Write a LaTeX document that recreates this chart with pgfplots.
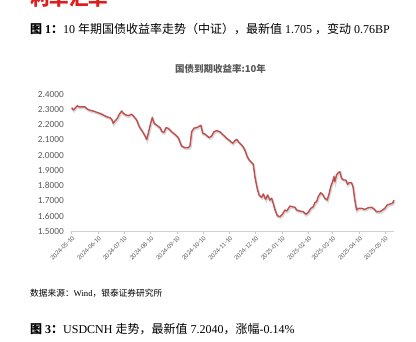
\documentclass[border=0pt]{standalone}
\usepackage{pgfplots}
\pgfplotsset{compat=1.18}
\usepackage{pgfplotstable}
\usepackage{fontspec}
\setmainfont{Liberation Serif}
\newfontfamily\cjk{Noto Sans CJK SC}
\newfontfamily\calibri{Carlito}
\definecolor{lred}{RGB}{192,80,77}
\definecolor{tgray}{RGB}{89,89,89}
\definecolor{hred}{RGB}{220,30,30}

\pgfplotstableread{
d v
0 2.312
1.9 2.297
3.8 2.308
6.5 2.325
8.8 2.317
12 2.317
15.5 2.317
18.2 2.303
21.3 2.295
25.1 2.29
29.1 2.282
32.9 2.275
36.8 2.264
40.7 2.253
44.6 2.246
46.6 2.236
48.4 2.209
50.4 2.225
53.1 2.242
55.4 2.269
58.2 2.29
60.1 2.275
63.2 2.264
65.9 2.26
69.8 2.269
72.5 2.253
75.7 2.231
78.7 2.187
82.6 2.154
85.3 2.128
87.3 2.103
89.6 2.154
91.9 2.209
93.8 2.247
96.1 2.209
99.6 2.194
102.8 2.181
105.1 2.154
107.4 2.15
109.8 2.181
112.4 2.177
116.4 2.154
120.2 2.137
124.1 2.115
128 2.06
131.9 2.049
135.7 2.049
137.7 2.06
139.7 2.154
142.3 2.177
146.2 2.183
150.5 2.196
152.5 2.144
155.1 2.139
157.8 2.126
160.1 2.115
162.9 2.126
165.6 2.154
168.8 2.161
172.6 2.154
176.4 2.133
180.4 2.111
184.2 2.095
187.4 2.078
190.1 2.095
192 2.104
195.1 2.082
199 2.06
201.7 2.034
204.4 1.99
206.7 1.968
209.5 1.951
211.4 1.942
213.3 1.859
216 1.782
218.3 1.738
221.1 1.723
223 1.745
225.8 1.71
228.1 1.738
230.8 1.705
232.8 1.717
234.6 1.684
236.6 1.645
239.3 1.603
242.4 1.596
245.1 1.61
248.3 1.64
250.3 1.633
252.1 1.648
254.1 1.666
257.2 1.661
259.9 1.658
261.9 1.64
265.7 1.633
269.6 1.629
272.7 1.612
275.4 1.625
278.5 1.651
281.2 1.661
283.2 1.688
285.1 1.694
287 1.727
289.8 1.753
292.1 1.743
294.8 1.717
297.5 1.705
299.8 1.749
301.8 1.797
303.8 1.826
305.3 1.859
306.4 1.826
308.4 1.87
310.3 1.885
312.3 1.891
314.2 1.848
316.9 1.837
319.2 1.837
321.2 1.809
323.1 1.819
325.9 1.819
327.7 1.789
329.7 1.705
331.7 1.64
333.6 1.651
337.5 1.651
341.4 1.644
345.2 1.655
349.2 1.658
352.2 1.646
355 1.629
358.8 1.629
362 1.64
364.6 1.651
367.3 1.673
370.5 1.679
373.6 1.684
375.3 1.705
}\yld

\begin{document}
\begin{tikzpicture}[x=1pt,y=1pt]
\path[use as bounding box] (0,0) rectangle (416,341);
\begin{scope}
\clip (0,0) rectangle (416,341);
\node[anchor=base west, inner sep=0, text=hred, font=\cjk\bfseries\fontsize{19.5}{20}\selectfont] at (30,335.6) {利率汇率};
\end{scope}
\node[anchor=base west, inner sep=0, font=\fontsize{12}{14}\selectfont] at (30,307.8)
  {{\bfseries\cjk 图} \textbf{1}{\bfseries\cjk ：}10 {\cjk 年期国债收益率走势（中证），最新值} 1.705 {\cjk ，变动} 0.76BP};
\node[anchor=base, inner sep=0, text=tgray, font=\cjk\bfseries\fontsize{9.5}{11}\selectfont] at (220.5,268.8) {国债到期收益率:10年};
\node[anchor=base west, inner sep=0, font=\fontsize{8.7}{10}\selectfont] at (30,44.2)
  {{\cjk 数据来源：}Wind{\cjk ，银泰证券研究所}};
\node[anchor=base west, inner sep=0, font=\fontsize{12}{14}\selectfont] at (30,7.7)
  {{\bfseries\cjk 图} \textbf{3}{\bfseries\cjk ：}USDCNH {\cjk 走势，最新值} 7.2040{\cjk ，涨幅}-0.14\%};

\begin{axis}[
  at={(71.7pt,109.7pt)}, anchor=south west,
  scale only axis, width=322.3pt, height=137pt,
  xmin=0, xmax=375.3, ymin=1.5, ymax=2.4,
  axis x line*=bottom, axis y line*=left,
  y axis line style={draw=none},
  x axis line style={draw=black!18, line width=0.8pt},
  tick align=outside, major tick length=3pt,
  xtick={0,31,61,92,123,153,184,214,245,276,304,335,365},
  xticklabels={2024-05-10,2024-06-10,2024-07-10,2024-08-10,2024-09-10,2024-10-10,2024-11-10,2024-12-10,2025-01-10,2025-02-10,2025-03-10,2025-04-10,2025-05-10},
  ytick={1.5,1.6,1.7,1.8,1.9,2.0,2.1,2.2,2.3,2.4},
  yticklabels={1.5000,1.6000,1.7000,1.8000,1.9000,2.0000,2.1000,2.2000,2.3000,2.4000},
  x tick style={draw=black!22, line width=0.7pt},
  y tick style={draw=none},
  /pgf/number format/assume math mode=true,
  y tick label style={font=\calibri\fontsize{9.3}{10}\selectfont, text=tgray, anchor=east, inner sep=0pt, xshift=-4.7pt},
  x tick label style={font=\calibri\fontsize{6.6}{7}\selectfont, text=tgray, rotate=45, anchor=north east, inner sep=0.8pt},
  clip=false,
]
\addplot[black, opacity=0.15, line width=2.2pt, transform canvas={shift={(0.7pt,-1.3pt)}}] table[x=d,y=v]{\yld};
\addplot[lred, line width=1.4pt, line join=round] table[x=d,y=v]{\yld};
\end{axis}
\end{tikzpicture}
\end{document}
